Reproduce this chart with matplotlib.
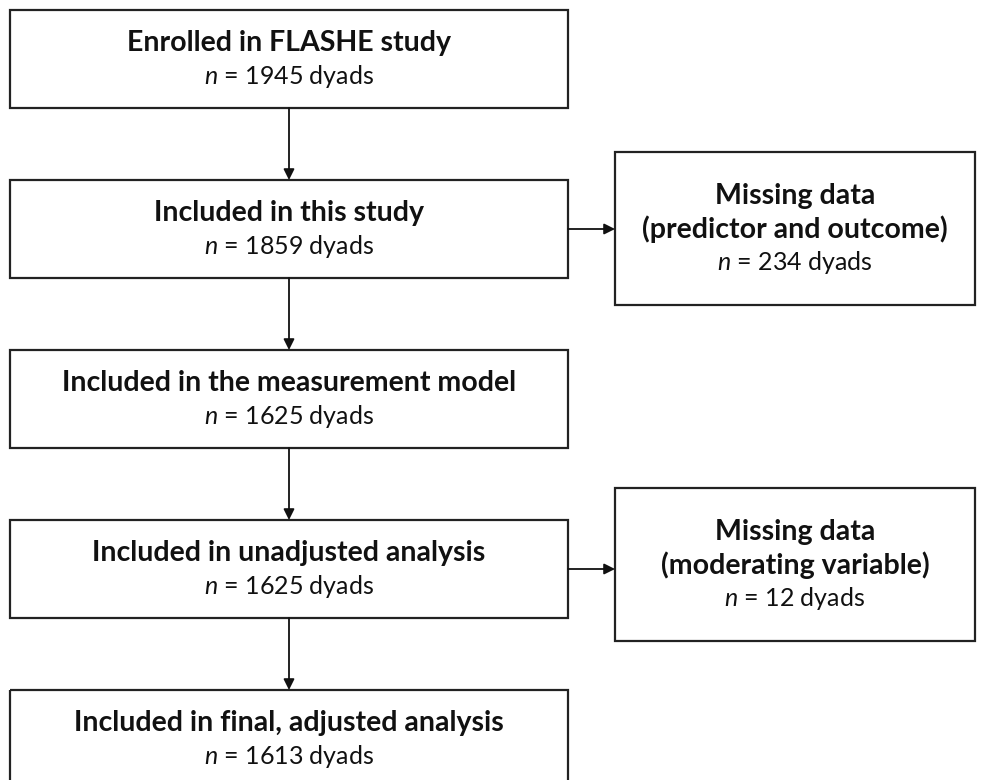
import matplotlib
matplotlib.use("Agg")
import matplotlib.pyplot as plt
from matplotlib.patches import Rectangle

# Flowchart content
main_titles = ["Enrolled in FLASHE study", "Included in this study",
               "Included in the measurement model", "Included in unadjusted analysis",
               "Included in final, adjusted analysis"]
main_counts = [1945, 1859, 1625, 1625, 1613]
side_titles = ["Missing data\n(predictor and outcome)", "Missing data\n(moderating variable)"]
side_counts = [234, 12]
side_from = [1, 3]  # index of main box each side box branches from

FONT = "Lato"
plt.rcParams['font.family'] = [FONT, 'DejaVu Sans']
plt.rcParams['mathtext.fontset'] = 'custom'
plt.rcParams['mathtext.rm'] = 'Lato'
plt.rcParams['mathtext.it'] = 'Lato:italic'

fig = plt.figure(figsize=(9.87, 7.8), dpi=100)
ax = fig.add_axes([0, 0, 1, 1])
ax.set_xlim(0, 987)
ax.set_ylim(780, 0)
ax.axis('off')

lw = 1.6
mx0, mx1 = 10, 568
mh = 98
main_tops = [10, 180, 350, 520, 690]
sx0, sx1 = 615, 975
side_tops = [152, 488]
sh = 153

fsb = 20.5
fsr = 18
col = '#111111'
for i, (t, c) in enumerate(zip(main_titles, main_counts)):
    top = main_tops[i]
    ax.add_patch(Rectangle((mx0, top), mx1 - mx0, mh, fill=False, ec='#222222', lw=lw))
    cx = (mx0 + mx1) / 2
    ax.text(cx, top + 33, t, ha='center', va='center', fontsize=fsb, fontweight='bold', color=col)
    ax.text(cx, top + 66, r"$\mathit{n}$" + f" = {c} dyads", ha='center', va='center', fontsize=fsr, color=col)
    if i < len(main_titles) - 1:
        ax.annotate("", xy=(cx, main_tops[i + 1]), xytext=(cx, top + mh),
                    arrowprops=dict(arrowstyle='-|>', color=col, lw=1.3,
                                    mutation_scale=16, shrinkA=0, shrinkB=0))

for j, (t, c) in enumerate(zip(side_titles, side_counts)):
    top = side_tops[j]
    ax.add_patch(Rectangle((sx0, top), sx1 - sx0, sh, fill=False, ec='#222222', lw=lw))
    cx = (sx0 + sx1) / 2
    l1, l2 = t.split("\n")
    ax.text(cx, top + 44, l1, ha='center', va='center', fontsize=fsb, fontweight='bold', color=col)
    ax.text(cx, top + 77, l2, ha='center', va='center', fontsize=fsb, fontweight='bold', color=col)
    ax.text(cx, top + 110, r"$\mathit{n}$" + f" = {c} dyads", ha='center', va='center', fontsize=fsr, color=col)
    y = main_tops[side_from[j]] + mh / 2
    ax.annotate("", xy=(sx0, y), xytext=(mx1, y),
                arrowprops=dict(arrowstyle='-|>', color=col, lw=1.3,
                                mutation_scale=16, shrinkA=0, shrinkB=0))

fig.savefig("out.png", dpi=100)
